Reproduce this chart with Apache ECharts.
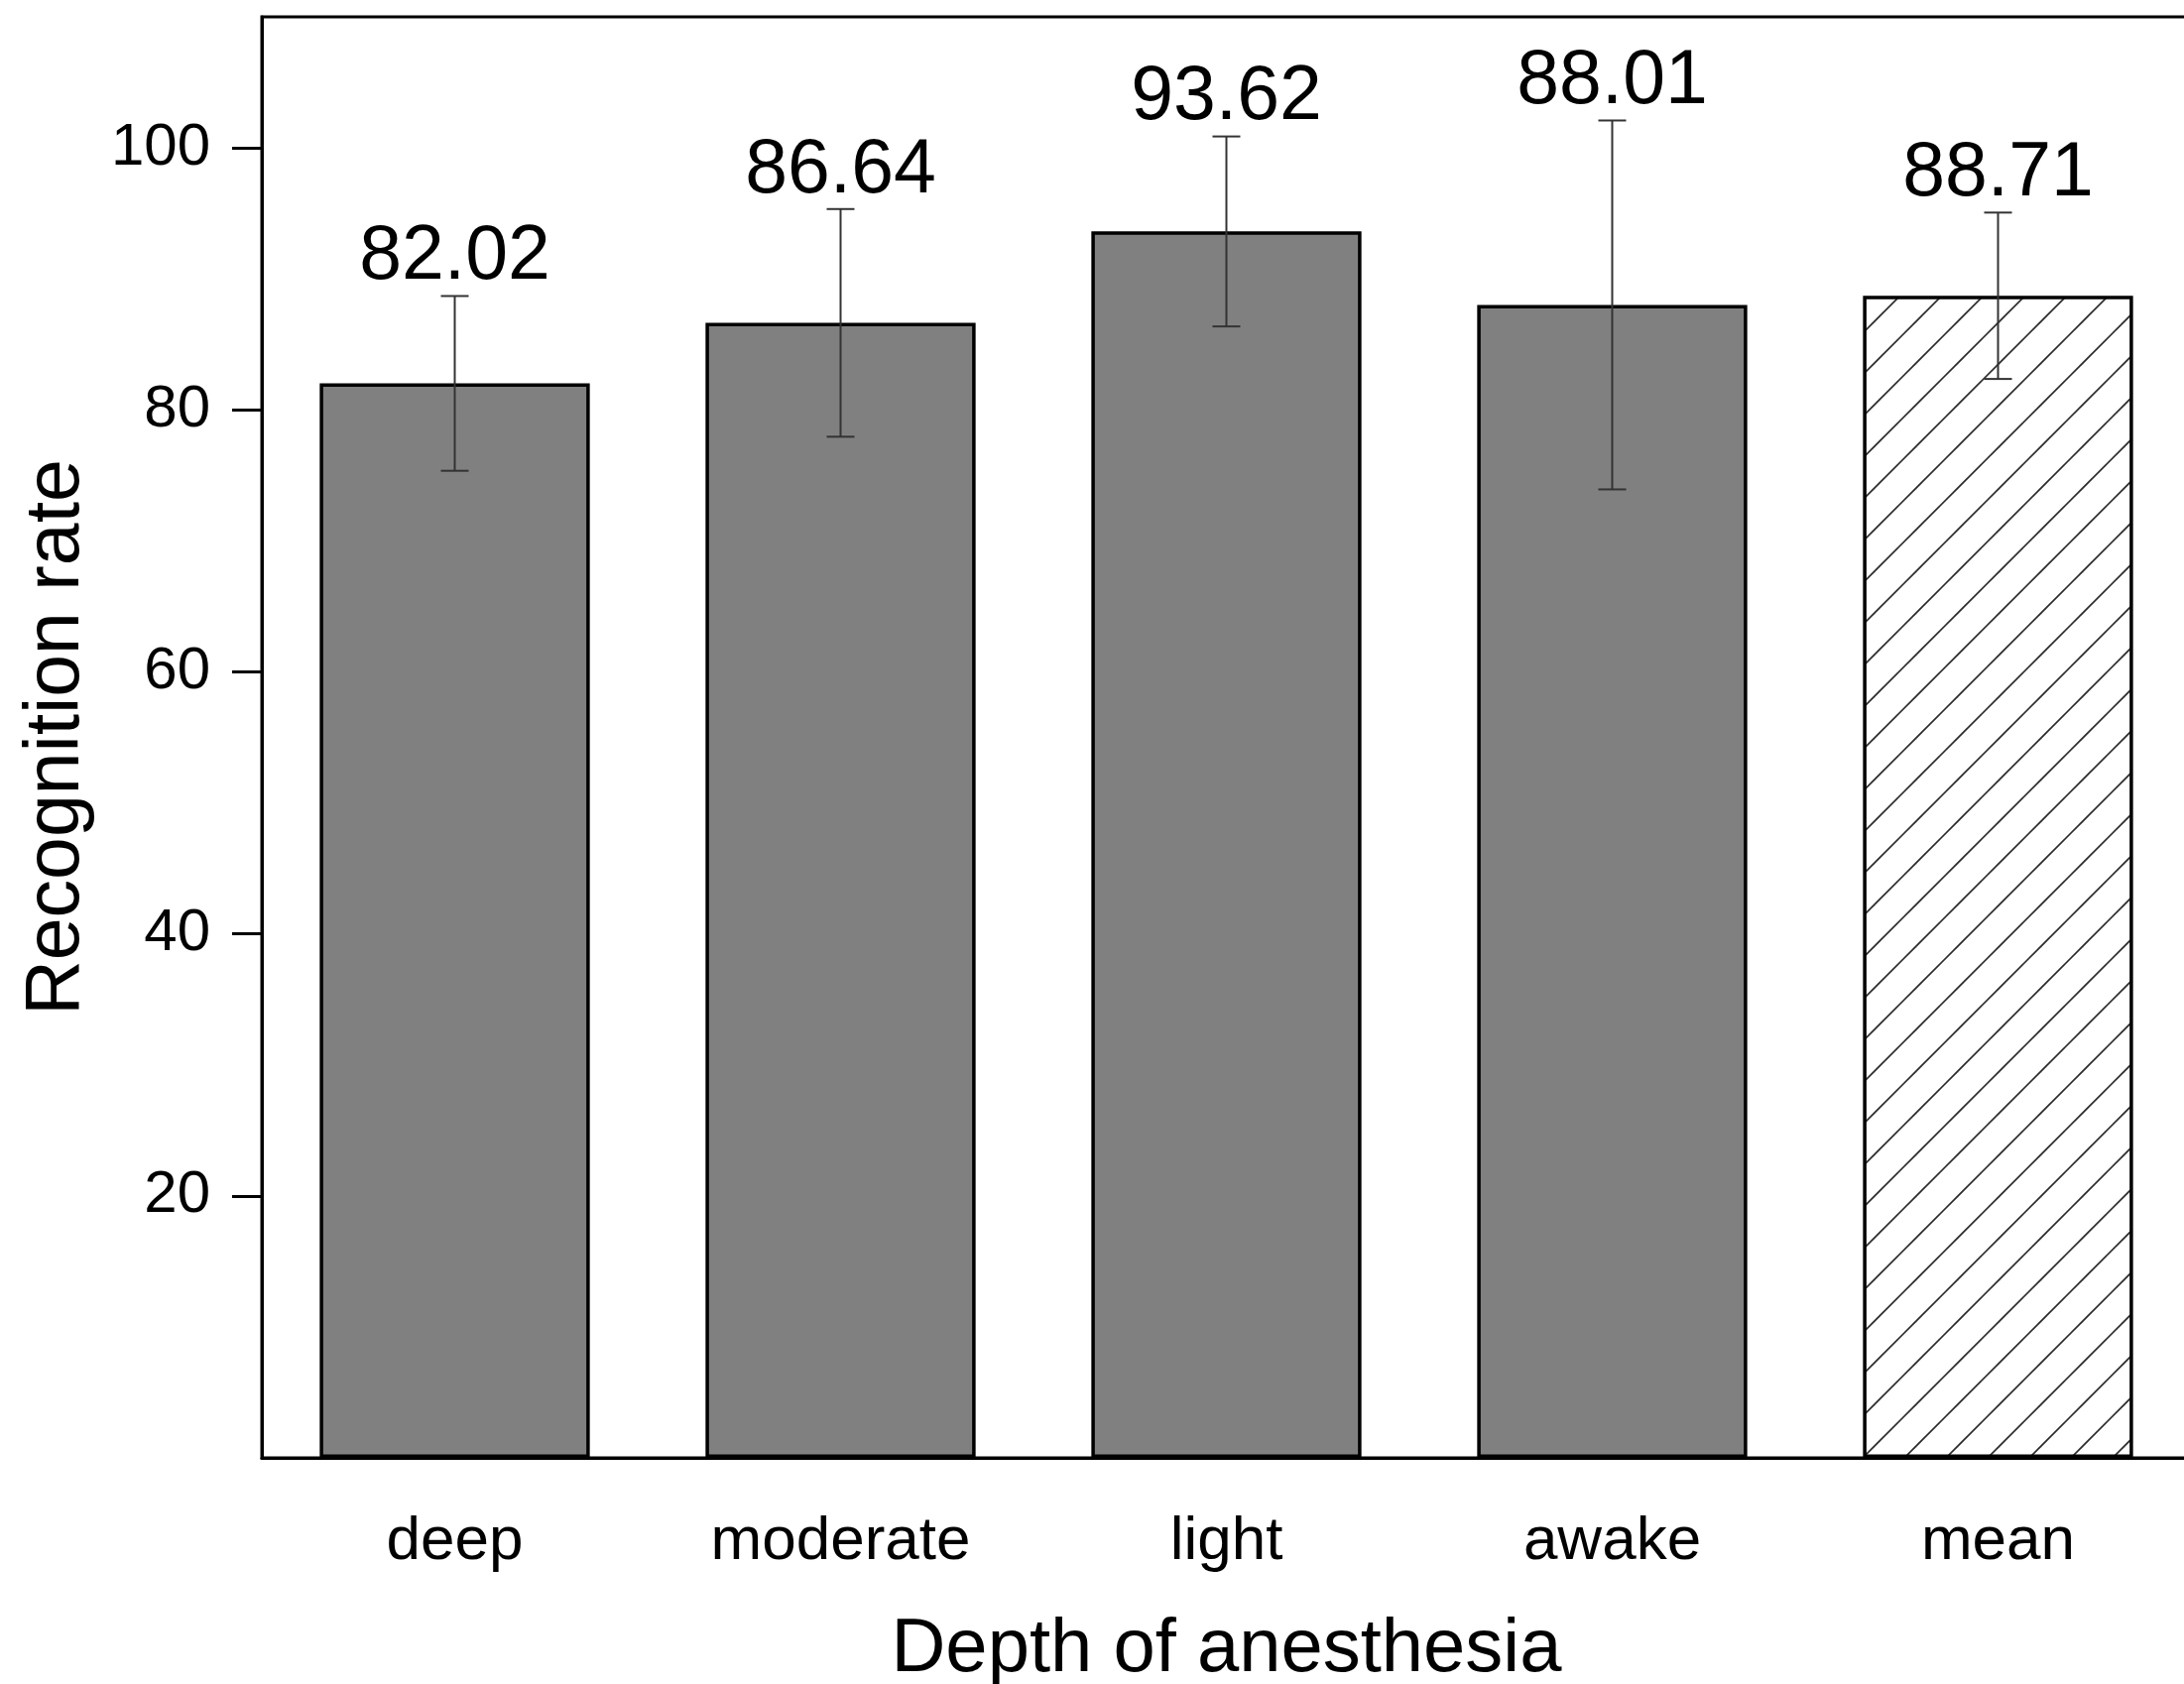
<!DOCTYPE html>
<html>
<head>
<meta charset="utf-8">
<script src="https://cdn.jsdelivr.net/npm/echarts@6/dist/echarts.min.js"></script>
<style>
  html, body { margin: 0; padding: 0; background: #ffffff; }
  #chart { width: 2202px; height: 1698px; }
</style>
</head>
<body>
<div id="chart"></div>
<script>
// Recognition rate by depth of anesthesia (mean ± error)
const categories = ['deep', 'moderate', 'light', 'awake', 'mean'];
const rates = [82.02, 86.64, 93.62, 88.01, 88.71];
const errors = [6.67, 8.69, 7.25, 14.08, 6.35];
const yTicks = [20, 40, 60, 80, 100];

const FONT = '"Liberation Sans", Arial, Helvetica, sans-serif';
const BAR_GRAY = '#808080';

// Diagonal hatch fill for the summary bar
function makeHatch() {
  const size = 42;
  const c = document.createElement('canvas');
  c.width = size; c.height = size;
  const ctx = c.getContext('2d');
  ctx.fillStyle = '#ffffff';
  ctx.fillRect(0, 0, size, size);
  ctx.strokeStyle = '#2a2a2a';
  ctx.lineWidth = 1.6;
  [-12, 30, 72].forEach(function (k) {
    ctx.beginPath();
    ctx.moveTo(-10, k + 10);
    ctx.lineTo(size + 10, k - size - 10);
    ctx.stroke();
  });
  return c;
}
const hatch = { image: makeHatch(), repeat: 'repeat' };

const barData = rates.map(function (v, i) {
  return {
    value: v,
    itemStyle: { color: categories[i] === 'mean' ? hatch : BAR_GRAY }
  };
});
const errData = rates.map(function (v, i) { return [i, v, errors[i]]; });

const chart = echarts.init(document.getElementById('chart'), null, { renderer: 'canvas' });

chart.setOption({
  backgroundColor: '#ffffff',
  animation: false,
  grid: {
    left: 264, top: 17, width: 1945, height: 1453,
    outerBoundsMode: 'none',
    containLabel: false,
    show: true, borderColor: '#000', borderWidth: 3, backgroundColor: 'transparent'
  },
  xAxis: {
    type: 'category',
    data: categories,
    boundaryGap: true,
    name: 'Depth of anesthesia',
    nameLocation: 'middle',
    nameGap: 156,
    nameTextStyle: { fontSize: 76, color: '#000', fontFamily: FONT },
    axisLine: { lineStyle: { color: '#000', width: 3 } },
    axisTick: { alignWithLabel: true, length: 28, lineStyle: { color: '#000', width: 3 } },
    axisLabel: { fontSize: 62, color: '#000', fontFamily: FONT, margin: 54 },
    splitLine: { show: false }
  },
  yAxis: {
    type: 'value',
    min: 0, max: 110, interval: 20,
    name: 'Recognition rate',
    nameLocation: 'middle',
    nameRotate: 90,
    nameGap: 168,
    nameTextStyle: { fontSize: 77, color: '#000', fontFamily: FONT },
    axisLine: { show: true, lineStyle: { color: '#000', width: 3 } },
    axisTick: { show: true, length: 30, customValues: yTicks, lineStyle: { color: '#000', width: 3 } },
    axisLabel: { fontSize: 60, color: '#000', fontFamily: FONT, margin: 52, customValues: yTicks },
    splitLine: { show: false }
  },
  series: [
    {
      type: 'bar',
      data: barData,
      barWidth: '70%',
      itemStyle: { borderColor: '#000', borderWidth: 3.5 },
      z: 2
    },
    {
      type: 'custom',
      data: errData,
      z: 3,
      clip: false,
      renderItem: function (params, api) {
        const idx = api.value(0);
        const v = api.value(1);
        const e = api.value(2);
        const hi = api.coord([idx, v + e]);
        const lo = api.coord([idx, v - e]);
        const cap = 14;
        const ls = { stroke: '#333', lineWidth: 2 };
        return {
          type: 'group',
          children: [
            { type: 'line', shape: { x1: hi[0], y1: hi[1], x2: lo[0], y2: lo[1] }, style: ls },
            { type: 'line', shape: { x1: hi[0] - cap, y1: hi[1], x2: hi[0] + cap, y2: hi[1] }, style: ls },
            { type: 'line', shape: { x1: lo[0] - cap, y1: lo[1], x2: lo[0] + cap, y2: lo[1] }, style: ls },
            {
              type: 'text',
              x: hi[0], y: hi[1],
              style: {
                text: rates[params.dataIndex].toFixed(2),
                fontSize: 77, fontFamily: FONT, fill: '#000',
                align: 'center', verticalAlign: 'bottom'
              }
            }
          ]
        };
      }
    }
  ]
});
</script>
</body>
</html>
